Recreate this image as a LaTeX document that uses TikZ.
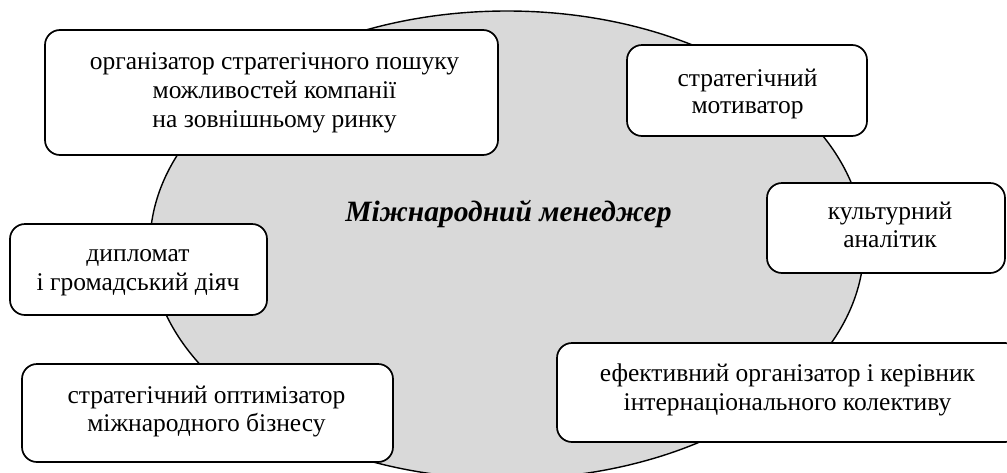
\documentclass[tikz,border=0pt]{standalone}
\usepackage{fontspec}
\setmainfont{Liberation Serif}
\usetikzlibrary{shapes.geometric}
\definecolor{ellgray}{RGB}{217,217,217}
\begin{document}
\begin{tikzpicture}[x=1pt,y=-1pt,
  box/.style={draw=black, line width=1.7pt, rounded corners=15pt, fill=white, inner sep=0pt},
  ln/.style={anchor=base, inner sep=0pt, font=\fontsize{25.5}{28}\selectfont},
  title/.style={anchor=base, inner sep=0pt, font=\fontsize{29.5}{32}\selectfont\bfseries\itshape}]
\useasboundingbox (0,0) rectangle (1007,472);
\begin{scope}
\clip (0,0) rectangle (1007,472);
\node[ellipse, draw=black, line width=1.4pt, fill=ellgray, inner sep=0pt,
      minimum width=714pt, minimum height=468pt] (ell) at (507,245) {};
% boxes
\node[box, minimum width=453pt, minimum height=125pt] (b1) at (271.5,92.5) {};
\node[box, minimum width=240pt, minimum height=91pt] (b2) at (747,90.5) {};
\node[box, minimum width=238pt, minimum height=90pt] (b3) at (886,228) {};
\node[box, minimum width=257pt, minimum height=91pt] (b4) at (138.5,269.5) {};
\node[box, minimum width=371pt, minimum height=98pt] (b5) at (207.5,413) {};
\node[box, minimum width=463pt, minimum height=99pt] (b6) at (788.5,392.5) {};
\end{scope}
% title
\node[title] (tt) at (508.5,221) {Міжнародний менеджер};
% box texts
\node[ln] (b1l1) at (274.5,69) {організатор стратегічного пошуку};
\node[ln] (b1l2) at (274.5,98) {можливостей компанії};
\node[ln] (b1l3) at (274.5,127) {на зовнішньому ринку};
\node[ln] (b2l1) at (747.5,86) {стратегічний};
\node[ln] (b2l2) at (747.5,113) {мотиватор};
\node[ln] (b3l1) at (890,219) {культурний};
\node[ln] (b3l2) at (890,247) {аналітик};
\node[ln] (b4l1) at (138,261) {дипломат};
\node[ln] (b4l2) at (138,290) {і громадський діяч};
\node[ln] (b5l1) at (206.5,403) {стратегічний оптимізатор};
\node[ln] (b5l2) at (206.5,431) {міжнародного бізнесу};
\node[ln] (b6l1) at (787.5,381) {ефективний організатор і керівник};
\node[ln] (b6l2) at (787.5,410) {інтернаціонального колективу};
\end{tikzpicture}
\end{document}
